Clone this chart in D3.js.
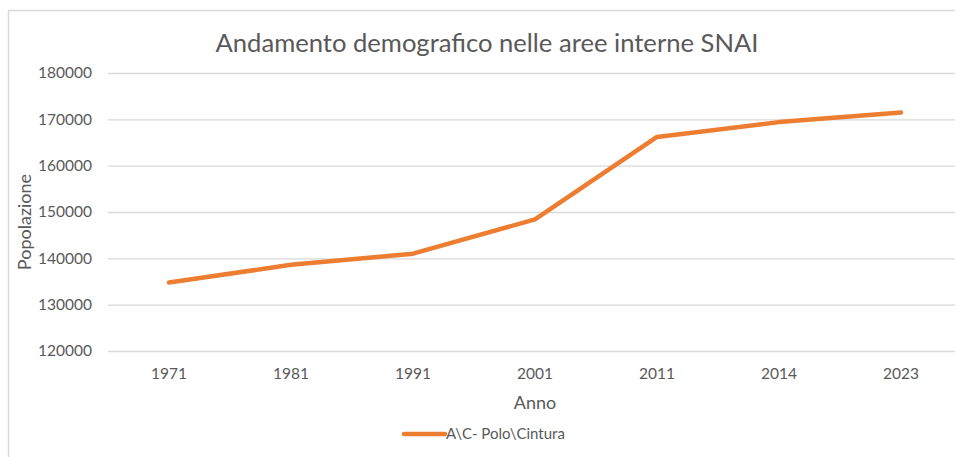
<!DOCTYPE html>
<html>
<head>
<meta charset="utf-8">
<script src="https://cdn.jsdelivr.net/npm/d3@7"></script>
<style>
  html, body { margin: 0; padding: 0; background: #fff; }
  svg { display: block; font-family: Lato, "Open Sans", sans-serif; }
</style>
</head>
<body>
<div id="chart"></div>
<script>
const years = ['1971', '1981', '1991', '2001', '2011', '2014', '2023']
const popolazione = [134800, 138600, 141000, 148400, 166200, 169400, 171500]
const yTicks = [120000, 130000, 140000, 150000, 160000, 170000, 180000]
const seriesName = 'A\\C- Polo\\Cintura'

const w = 955
const h = 457
const plot = { left: 108, right: 962, top: 73, bottom: 351 }
const textColor = '#595959'
const gridColor = '#d9d9d9'
const lineColor = '#ed7d31'

const svg = d3.select('#chart')
  .append('svg')
  .attr('width', w)
  .attr('height', h)

// chart border (runs off the right and bottom edges)
svg.append('rect')
  .attr('x', 8.5)
  .attr('y', 10.5)
  .attr('width', 1000)
  .attr('height', 500)
  .attr('fill', 'none')
  .attr('stroke', gridColor)
  .attr('stroke-width', 1.5)

const xScale = d3.scaleBand()
  .domain(years)
  .range([plot.left, plot.right])

const yScale = d3.scaleLinear()
  .domain([120000, 180000])
  .range([plot.bottom, plot.top])

// gridlines + y labels
const yAxis = d3.axisLeft(yScale)
  .tickValues(yTicks)
  .tickFormat(d3.format('d'))
  .tickSize(-(plot.right - plot.left))
  .tickPadding(16)

svg.append('g')
  .attr('transform', 'translate(' + plot.left + ', 0)')
  .call(yAxis)
  .call(g => g.select('.domain').remove())
  .call(g => g.selectAll('line').attr('stroke', gridColor).attr('stroke-width', 1.3))
  .call(g => g.selectAll('text')
    .attr('fill', textColor)
    .attr('font-size', 15.5)
    .attr('font-family', 'Lato, sans-serif'))

const xAxis = d3.axisBottom(xScale)
  .tickSize(0)
  .tickPadding(17)

svg.append('g')
  .attr('transform', 'translate(0, ' + plot.bottom + ')')
  .call(xAxis)
  .call(g => g.select('.domain').remove())
  .call(g => g.selectAll('text')
    .attr('fill', textColor)
    .attr('font-size', 15.5)
    .attr('font-family', 'Lato, sans-serif'))

const line = d3.line()
  .x((d, i) => xScale(years[i]) + xScale.bandwidth() / 2)
  .y(d => yScale(d))

svg.append('path')
  .datum(popolazione)
  .attr('d', line)
  .attr('fill', 'none')
  .attr('stroke', lineColor)
  .attr('stroke-width', 4.5)
  .attr('stroke-linecap', 'round')
  .attr('stroke-linejoin', 'round')

// title
svg.append('text')
  .attr('x', 487)
  .attr('y', 52)
  .attr('text-anchor', 'middle')
  .attr('fill', textColor)
  .attr('font-size', 25.6)
  .text('Andamento demografico nelle aree interne SNAI')

// axis titles
svg.append('text')
  .attr('x', (plot.left + plot.right) / 2)
  .attr('y', 409)
  .attr('text-anchor', 'middle')
  .attr('fill', textColor)
  .attr('font-size', 18)
  .text('Anno')

svg.append('text')
  .attr('transform', 'translate(31, 222) rotate(-90)')
  .attr('text-anchor', 'middle')
  .attr('fill', textColor)
  .attr('font-size', 18)
  .text('Popolazione')

// legend
const legend = svg.append('g')
  .attr('transform', 'translate(404, 434)')

legend.append('line')
  .attr('x1', 0)
  .attr('x2', 41)
  .attr('stroke', lineColor)
  .attr('stroke-width', 4.5)
  .attr('stroke-linecap', 'round')

legend.append('text')
  .attr('x', 42)
  .attr('y', 5)
  .attr('fill', textColor)
  .attr('font-size', 15)
  .text(seriesName)
</script>
</body>
</html>
